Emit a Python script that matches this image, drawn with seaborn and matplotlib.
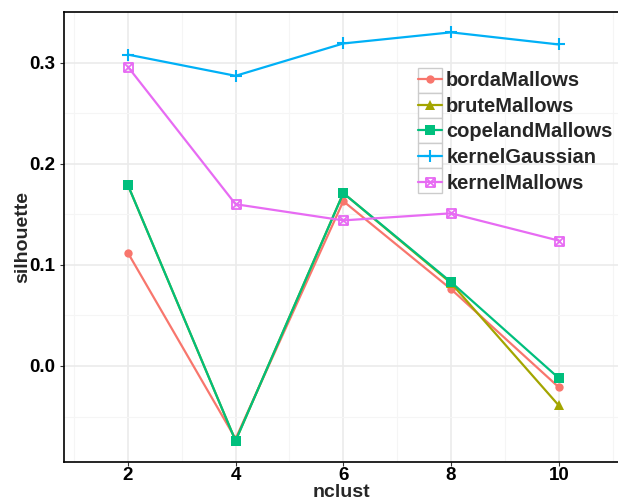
import numpy as np
import pandas as pd
import seaborn as sns
import matplotlib.pyplot as plt
from matplotlib.path import Path
from matplotlib.lines import Line2D
from matplotlib.patches import Rectangle

nclust = [2, 4, 6, 8, 10]
bordaMallows = [0.112, -0.072, 0.163, 0.076, -0.021]
bruteMallows = [0.179, -0.074, 0.171, 0.082, -0.039]
copelandMallows = [0.179, -0.074, 0.171, 0.083, -0.012]
kernelGaussian = [0.308, 0.287, 0.319, 0.330, 0.318]
kernelMallows = [0.296, 0.160, 0.144, 0.151, 0.124]

methods = ["bordaMallows", "bruteMallows", "copelandMallows", "kernelGaussian", "kernelMallows"]
values = [bordaMallows, bruteMallows, copelandMallows, kernelGaussian, kernelMallows]
colors = ["#F8766D", "#A3A500", "#00BF7D", "#00B0F6", "#E76BF3"]

# boxed X marker (ggplot shape 7)
boxx = Path(
    [(-1, -1), (1, -1), (1, 1), (-1, 1), (-1, -1), (-1, -1), (1, 1), (-1, 1), (1, -1)],
    [Path.MOVETO, Path.LINETO, Path.LINETO, Path.LINETO, Path.CLOSEPOLY,
     Path.MOVETO, Path.LINETO, Path.MOVETO, Path.LINETO],
)
markers = ["o", "^", "s", "+", boxx]
msizes = [6, 7, 6.5, 9, 6.5]

sns.set_style("white")
plt.rcParams['font.family'] = ['Liberation Sans', 'DejaVu Sans']
plt.rcParams['font.weight'] = 'bold'

W, H = 618, 501
fig = plt.figure(figsize=(6.18, 5.01), dpi=100)
ax = fig.add_axes([0.1036, 0.0778, 0.8964, 0.898])

handles = []
for name, vals, c, m, ms in zip(methods, values, colors, markers, msizes):
    df = pd.DataFrame({"nclust": nclust, "silhouette": vals})
    if name == "kernelMallows":
        kw = dict(mfc="none", mec=c, mew=1.3)
    elif name == "kernelGaussian":
        kw = dict(mec=c, mew=1.5)
    else:
        kw = dict(mfc=c, mec=c, mew=0)
    sns.lineplot(data=df, x="nclust", y="silhouette", color=c, marker=m,
                 markersize=ms, linewidth=1.6, ax=ax, **kw)
    handles.append(Line2D([], [], color=c, marker=m, markersize=ms, linewidth=1.6, **kw))

ax.set_xlim(0.815, 11.1)
ax.set_ylim(-0.095, 0.35)
ax.set_xticks([2, 4, 6, 8, 10])
ax.set_yticks([0.0, 0.1, 0.2, 0.3])
ax.set_yticklabels(["0.0", "0.1", "0.2", "0.3"])
ax.set_xticks([1, 3, 5, 7, 9, 11], minor=True)
ax.set_yticks([-0.05, 0.05, 0.15, 0.25], minor=True)
ax.grid(True, which="major", color="#EBEBEB", linewidth=1.2)
ax.grid(True, which="minor", color="#F5F5F5", linewidth=0.8)
ax.set_axisbelow(True)

for s in ["left", "bottom", "top"]:
    ax.spines[s].set_visible(True)
    ax.spines[s].set_color("black")
    ax.spines[s].set_linewidth(1.2)
ax.spines["right"].set_visible(False)

ax.tick_params(axis="both", which="major", length=3, width=0.8, color="#333333",
               labelsize=13.5, pad=3, direction="out", left=True, bottom=True)
ax.tick_params(axis="x", which="major", pad=0.5)
ax.tick_params(axis="both", which="minor", length=0)
for lab in ax.get_xticklabels() + ax.get_yticklabels():
    lab.set_fontweight("bold")
    lab.set_color("black")

ax.set_xlabel("nclust", fontsize=14, fontweight="bold", labelpad=0)
ax.set_ylabel("silhouette", fontsize=14, fontweight="bold", labelpad=-1)

# legend key boxes, ggplot style
for i in range(5):
    ax.add_patch(Rectangle((418 / W, 1 - (68 + 25 * (i + 1)) / H), 24 / W, 25 / H,
                           transform=fig.transFigure, facecolor="white",
                           edgecolor="#CCCCCC", linewidth=1.0, zorder=4, clip_on=False))

leg = ax.legend(handles, methods, loc="upper left", bbox_to_anchor=(418 / W, 1 - 71 / H),
                bbox_transform=fig.transFigure, frameon=False, fontsize=14.5,
                handlelength=1.2, handletextpad=0.2, labelspacing=0.33,
                borderpad=0, borderaxespad=0)
leg.set_zorder(6)
for t in leg.get_texts():
    t.set_fontweight("bold")

plt.savefig("out.png", dpi=100)
